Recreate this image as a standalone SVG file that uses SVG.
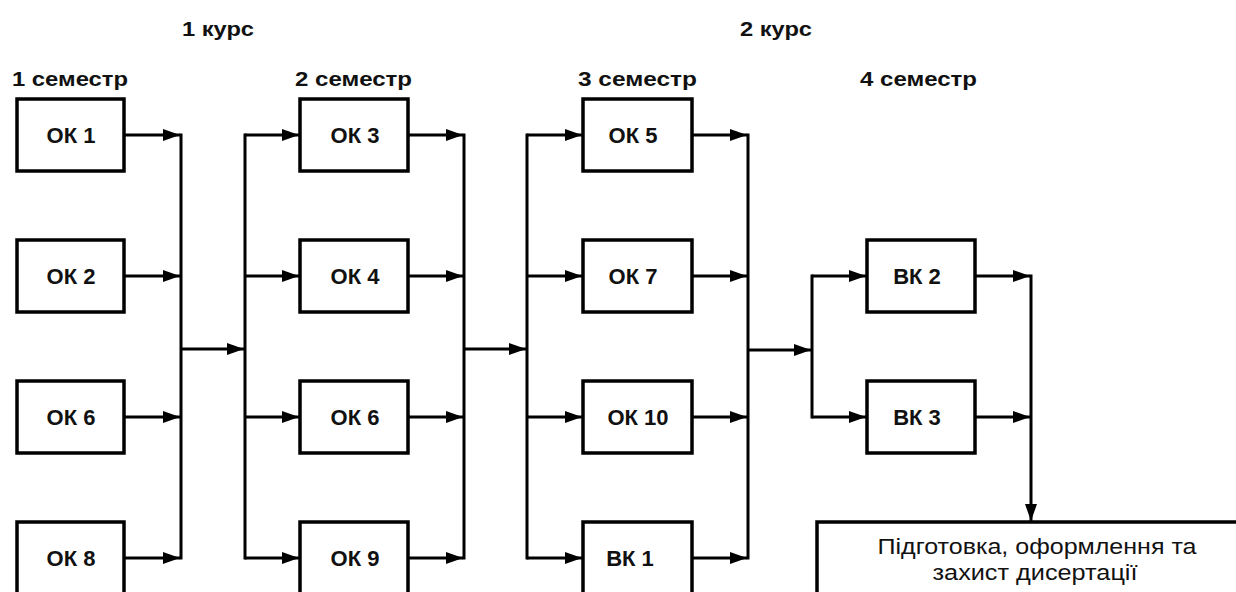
<svg xmlns="http://www.w3.org/2000/svg" width="1236" height="592" viewBox="0 0 1236 592">
<defs>
<marker id="ah" markerUnits="userSpaceOnUse" markerWidth="18" markerHeight="12" refX="17" refY="6" orient="auto">
<path d="M0,0 L17,6 L0,12 Z" fill="#000"/>
</marker>
<style>
.box{fill:#fff;stroke:#000;stroke-width:3.5}
.lbl{font-family:"Liberation Sans",Arial,sans-serif;font-weight:bold;font-size:22px;text-anchor:middle;fill:#111}
.hd{font-family:"Liberation Sans",Arial,sans-serif;font-weight:bold;font-size:21px;fill:#111}
.txt{font-family:"Liberation Sans",Arial,sans-serif;font-size:22px;text-anchor:middle;fill:#111}
.ln{stroke:#000;stroke-width:3;fill:none}
.ar{stroke:#000;stroke-width:3;fill:none;marker-end:url(#ah)}
</style>
</defs>
<rect width="1236" height="592" fill="#fff"/>
<g id="headings">
<text class="hd" x="182" y="36" textLength="72" lengthAdjust="spacingAndGlyphs">1 курс</text>
<text class="hd" x="740" y="36" textLength="72" lengthAdjust="spacingAndGlyphs">2 курс</text>
<text class="hd" x="12" y="86" textLength="116" lengthAdjust="spacingAndGlyphs">1 семестр</text>
<text class="hd" x="295" y="86" textLength="117" lengthAdjust="spacingAndGlyphs">2 семестр</text>
<text class="hd" x="578" y="86" textLength="119" lengthAdjust="spacingAndGlyphs">3 семестр</text>
<text class="hd" x="860" y="86" textLength="117" lengthAdjust="spacingAndGlyphs">4 семестр</text>
</g>
<g id="connectors">
<line class="ar" x1="124" y1="135" x2="180" y2="135"/>
<line class="ar" x1="124" y1="276" x2="180" y2="276"/>
<line class="ar" x1="124" y1="417" x2="180" y2="417"/>
<line class="ar" x1="124" y1="558" x2="180" y2="558"/>
<line class="ln" x1="181" y1="133.5" x2="181" y2="559.5"/>
<line class="ar" x1="181" y1="349" x2="244" y2="349"/>
<line class="ln" x1="245" y1="133.5" x2="245" y2="559.5"/>
<line class="ar" x1="245" y1="135" x2="299" y2="135"/>
<line class="ar" x1="245" y1="276" x2="299" y2="276"/>
<line class="ar" x1="245" y1="417" x2="299" y2="417"/>
<line class="ar" x1="245" y1="558" x2="299" y2="558"/>
<line class="ar" x1="408" y1="135" x2="463" y2="135"/>
<line class="ar" x1="408" y1="276" x2="463" y2="276"/>
<line class="ar" x1="408" y1="417" x2="463" y2="417"/>
<line class="ar" x1="408" y1="558" x2="463" y2="558"/>
<line class="ln" x1="464" y1="133.5" x2="464" y2="559.5"/>
<line class="ar" x1="464" y1="349" x2="526" y2="349"/>
<line class="ln" x1="527" y1="133.5" x2="527" y2="559.5"/>
<line class="ar" x1="527" y1="135" x2="582" y2="135"/>
<line class="ar" x1="527" y1="276" x2="582" y2="276"/>
<line class="ar" x1="527" y1="417" x2="582" y2="417"/>
<line class="ar" x1="527" y1="558" x2="582" y2="558"/>
<line class="ar" x1="692" y1="135" x2="747" y2="135"/>
<line class="ar" x1="692" y1="276" x2="747" y2="276"/>
<line class="ar" x1="692" y1="417" x2="747" y2="417"/>
<line class="ar" x1="692" y1="558" x2="747" y2="558"/>
<line class="ln" x1="748" y1="133.5" x2="748" y2="559.5"/>
<line class="ar" x1="748" y1="350" x2="811" y2="350"/>
<line class="ln" x1="812" y1="274.5" x2="812" y2="418.5"/>
<line class="ar" x1="812" y1="276" x2="866" y2="276"/>
<line class="ar" x1="812" y1="417" x2="866" y2="417"/>
<line class="ar" x1="975" y1="276" x2="1030" y2="276"/>
<line class="ar" x1="975" y1="417" x2="1030" y2="417"/>
<line class="ar" x1="1031" y1="274.5" x2="1031" y2="521"/>
</g>
<g id="ok1"><rect class="box" x="17" y="99" width="107" height="72"/><text class="lbl" x="71" y="143">ОК 1</text></g>
<g id="ok2"><rect class="box" x="17" y="240" width="107" height="72"/><text class="lbl" x="71" y="284">ОК 2</text></g>
<g id="ok6a"><rect class="box" x="17" y="381" width="107" height="72"/><text class="lbl" x="71" y="425">ОК 6</text></g>
<g id="ok8"><rect class="box" x="17" y="522" width="107" height="72"/><text class="lbl" x="71" y="566">ОК 8</text></g>
<g id="ok3"><rect class="box" x="300" y="99" width="108" height="72"/><text class="lbl" x="355" y="143">ОК 3</text></g>
<g id="ok4"><rect class="box" x="300" y="240" width="108" height="72"/><text class="lbl" x="355" y="284">ОК 4</text></g>
<g id="ok6b"><rect class="box" x="300" y="381" width="108" height="72"/><text class="lbl" x="355" y="425">ОК 6</text></g>
<g id="ok9"><rect class="box" x="300" y="522" width="108" height="72"/><text class="lbl" x="355" y="566">ОК 9</text></g>
<g id="ok5"><rect class="box" x="583" y="99" width="109" height="72"/><text class="lbl" x="633" y="143">ОК 5</text></g>
<g id="ok7"><rect class="box" x="583" y="240" width="109" height="72"/><text class="lbl" x="633" y="284">ОК 7</text></g>
<g id="ok10"><rect class="box" x="583" y="381" width="109" height="72"/><text class="lbl" x="638" y="425">ОК 10</text></g>
<g id="vk1"><rect class="box" x="583" y="522" width="109" height="72"/><text class="lbl" x="630" y="566">ВК 1</text></g>
<g id="vk2"><rect class="box" x="867" y="240" width="108" height="72"/><text class="lbl" x="917" y="284">ВК 2</text></g>
<g id="vk3"><rect class="box" x="867" y="381" width="108" height="72"/><text class="lbl" x="917" y="425">ВК 3</text></g>
<g id="final"><rect class="box" x="817" y="522" width="430" height="80"/><text class="txt" x="1037" y="554" textLength="319" lengthAdjust="spacingAndGlyphs">Підготовка, оформлення та</text><text class="txt" x="1035" y="580" textLength="205" lengthAdjust="spacingAndGlyphs">захист дисертації</text></g>
</svg>
